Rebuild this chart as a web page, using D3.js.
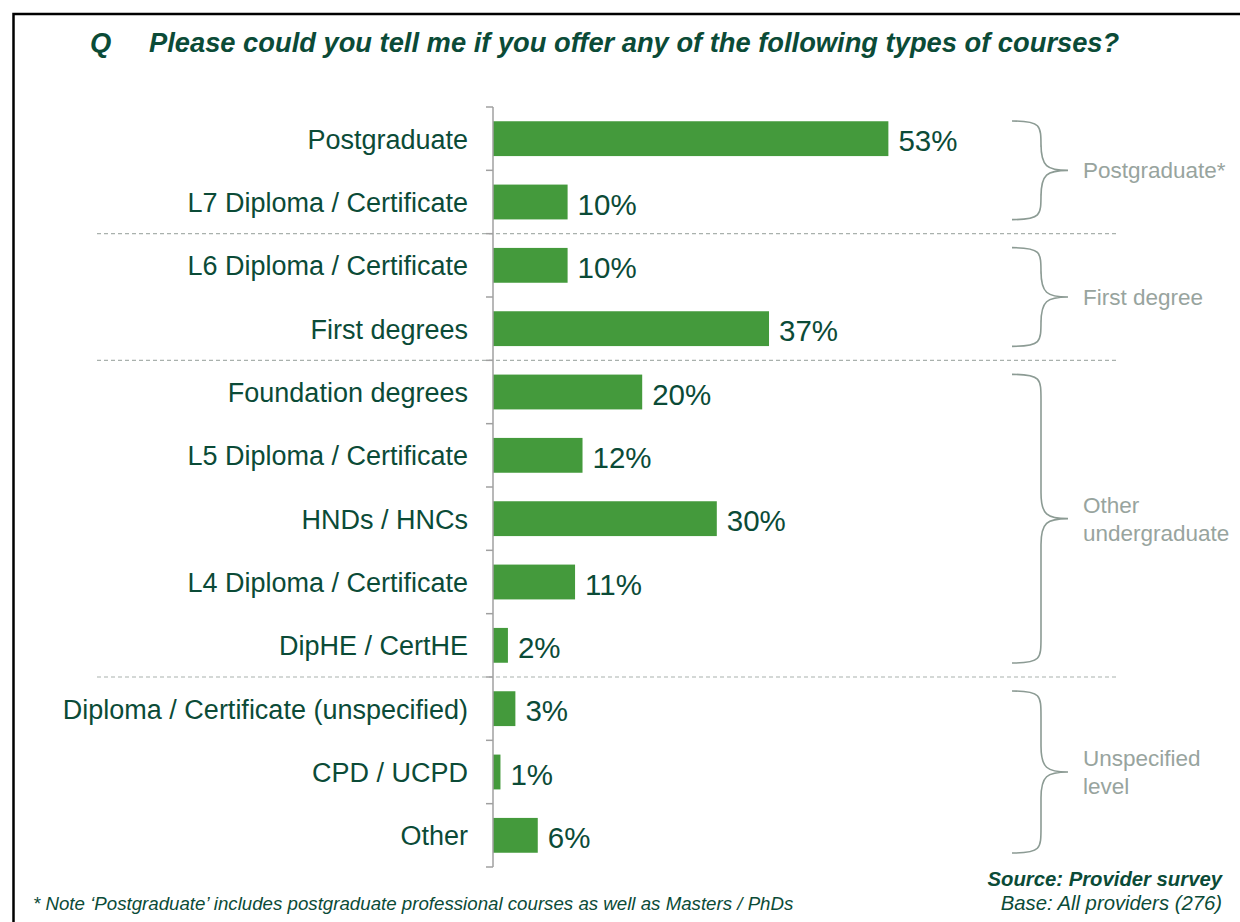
<!DOCTYPE html>
<html>
<head>
<meta charset="utf-8">
<script src="https://cdn.jsdelivr.net/npm/d3@7"></script>
<style>
  html, body { margin: 0; padding: 0; background: #fff; }
  svg { display: block; font-family: "Liberation Sans", Arial, sans-serif; }
</style>
</head>
<body>
<svg id="chart" width="1240" height="922"></svg>
<script>
// Course types offered by providers (% of providers)
const categories = [
  "Postgraduate",
  "L7 Diploma / Certificate",
  "L6 Diploma / Certificate",
  "First degrees",
  "Foundation degrees",
  "L5 Diploma / Certificate",
  "HNDs / HNCs",
  "L4 Diploma / Certificate",
  "DipHE / CertHE",
  "Diploma / Certificate (unspecified)",
  "CPD / UCPD",
  "Other"
];
const values = [53, 10, 10, 37, 20, 12, 30, 11, 2, 3, 1, 6];

// Level groupings shown with braces on the right
const groupNames = [["Postgraduate*"], ["First degree"], ["Other", "undergraduate"], ["Unspecified", "level"]];
const groupFirst = [0, 2, 4, 9];
const groupLast = [1, 3, 8, 11];

const titleQ = "Q";
const titleText = "Please could you tell me if you offer any of the following types of courses?";
const noteText = "* Note \u2018Postgraduate\u2019 includes postgraduate professional courses as well as Masters / PhDs";
const sourceText = "Source: Provider survey";
const baseText = "Base: All providers (276)";

const GREEN_TEXT = "#0b4b37";
const BAR = "#449a3c";
const BRACE = "#8c9b94";
const GROUP_TEXT = "#98a49e";

const svg = d3.select("#chart");

// Frame
svg.append("path")
  .attr("d", "M13.5,922 L13.5,14 L1240,14")
  .attr("fill", "none").attr("stroke", "#000").attr("stroke-width", 2.5);

// Title
svg.append("text").attr("x", 90).attr("y", 42)
  .attr("dominant-baseline", "central")
  .attr("font-size", 27.3).attr("font-weight", "bold").attr("font-style", "italic")
  .attr("fill", GREEN_TEXT).text(titleQ);
svg.append("text").attr("x", 149).attr("y", 42)
  .attr("dominant-baseline", "central")
  .attr("font-size", 27.3).attr("font-weight", "bold").attr("font-style", "italic")
  .attr("fill", GREEN_TEXT)
  .text(titleText);

// Scales
const axisX = 493;
const x = d3.scaleLinear().domain([0, 100]).range([axisX, axisX + 746]);
const y = d3.scaleBand().domain(categories).range([107, 867]).padding(0);
const bw = y.bandwidth();
const barInset = bw * 0.225, barH = bw * 0.55;

const boundaries = categories.map(c => y(c)).concat([y.range()[1]]);

// Dashed group separators
const sepRows = groupFirst.slice(1);
svg.append("g").selectAll("line").data(sepRows).join("line")
  .attr("x1", 97).attr("x2", 1118)
  .attr("y1", i => boundaries[i]).attr("y2", i => boundaries[i])
  .attr("stroke", "#a9b1ad").attr("stroke-width", 1.2)
  .attr("stroke-dasharray", "4,3");

// Bars
svg.append("g").selectAll("rect").data(categories).join("rect")
  .attr("x", x(0))
  .attr("y", d => y(d) + barInset)
  .attr("width", (d, i) => x(values[i]) - x(0))
  .attr("height", barH)
  .attr("fill", BAR);

// Axis line with ticks at band boundaries
const axisG = svg.append("g");
axisG.append("line")
  .attr("x1", axisX).attr("x2", axisX)
  .attr("y1", y.range()[0]).attr("y2", y.range()[1])
  .attr("stroke", "#a0a0a0").attr("stroke-width", 1.5);
axisG.selectAll("line.tick").data(boundaries).join("line")
  .attr("class", "tick")
  .attr("x1", axisX - 7).attr("x2", axisX)
  .attr("y1", d => d).attr("y2", d => d)
  .attr("stroke", "#a0a0a0").attr("stroke-width", 1.5);

// Category labels
svg.append("g").selectAll("text").data(categories).join("text")
  .attr("x", 468)
  .attr("y", d => y(d) + bw / 2 + 1)
  .attr("text-anchor", "end")
  .attr("dominant-baseline", "central")
  .attr("font-size", 27)
  .attr("fill", GREEN_TEXT)
  .text(d => d);

// Value labels
svg.append("g").selectAll("text").data(categories).join("text")
  .attr("x", (d, i) => x(values[i]) + 10)
  .attr("y", d => y(d) + bw / 2 + 2)
  .attr("dominant-baseline", "central")
  .attr("font-size", 29.5)
  .attr("fill", GREEN_TEXT)
  .text((d, i) => values[i] + "%");

// Group braces
function bracePath(y0, y1) {
  const xa = 1012, xv = 1041, xt = 1068;
  const ym = (y0 + y1) / 2;
  const r = 26;
  return `M${xa},${y0} C${xv},${y0} ${xv},${y0 + 4} ${xv},${y0 + r}` +
    ` L${xv},${ym - r}` +
    ` C${xv},${ym - 4} ${xv + 6},${ym} ${xt},${ym}` +
    ` C${xv + 6},${ym} ${xv},${ym + 4} ${xv},${ym + r}` +
    ` L${xv},${y1 - r}` +
    ` C${xv},${y1 - 4} ${xv},${y1} ${xa},${y1}`;
}
const braceG = svg.append("g");
groupNames.forEach((lines, gi) => {
  const y0 = boundaries[groupFirst[gi]] + 14;
  const y1 = boundaries[groupLast[gi] + 1] - 14;
  braceG.append("path")
    .attr("d", bracePath(y0, y1))
    .attr("fill", "none").attr("stroke", BRACE).attr("stroke-width", 1.6);
  const ym = (y0 + y1) / 2;
  const lh = 28;
  const t = braceG.append("text")
    .attr("font-size", 22.5).attr("fill", GROUP_TEXT)
    .attr("dominant-baseline", "central");
  lines.forEach((ln, li) => {
    t.append("tspan")
      .attr("x", 1083)
      .attr("y", ym + (li - (lines.length - 1) / 2) * lh)
      .text(ln);
  });
});

// Footer notes
svg.append("text").attr("x", 33).attr("y", 903)
  .attr("dominant-baseline", "central")
  .attr("font-size", 18.7).attr("font-style", "italic")
  .attr("fill", GREEN_TEXT)
  .text(noteText);
svg.append("text").attr("x", 1222).attr("y", 879)
  .attr("text-anchor", "end").attr("dominant-baseline", "central")
  .attr("font-size", 20.3).attr("font-style", "italic").attr("font-weight", "bold")
  .attr("fill", GREEN_TEXT)
  .text(sourceText);
svg.append("text").attr("x", 1222).attr("y", 903)
  .attr("text-anchor", "end").attr("dominant-baseline", "central")
  .attr("font-size", 20.3).attr("font-style", "italic")
  .attr("fill", GREEN_TEXT)
  .text(baseText);
</script>
</body>
</html>
